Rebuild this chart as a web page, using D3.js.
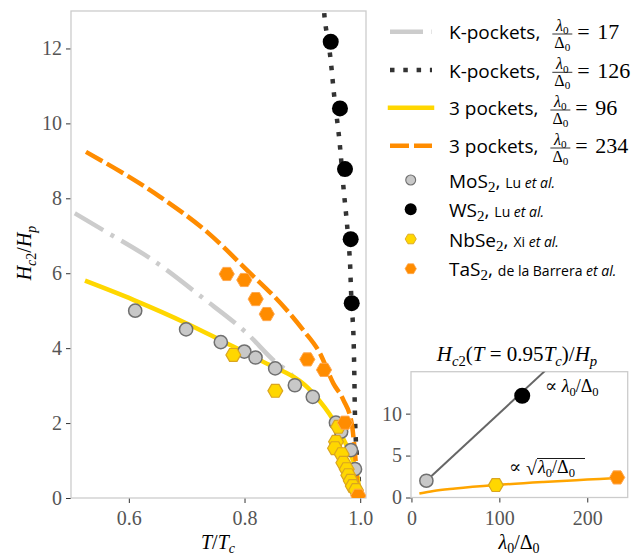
<!DOCTYPE html>
<html>
<head>
<meta charset="utf-8">
<script src="https://cdn.jsdelivr.net/npm/d3@7"></script>
<style>
  body { margin: 0; background: #fff; }
  svg { display: block; }
</style>
</head>
<body>
<svg id="chart" width="641" height="557"></svg>
<script>
// ---- Theory curves: Hc2/Hp versus T/Tc ----
const tempK17   = [0.5066, 0.5558, 0.6366, 0.7287, 0.8038, 0.8556, 0.8786, 0.886];
const hcK17     = [7.60, 7.15, 6.40, 5.33, 4.40, 3.60, 3.33, 3.20];

const tempK126  = [0.9368, 0.9379, 0.9478, 0.9552, 0.9634, 0.9720, 0.9767, 0.9824, 0.9841, 0.9881, 0.9898, 0.9910, 0.9927, 0.9962, 1.0];
const hcK126    = [13.3, 12.92, 11.84, 10.71, 9.64, 8.13, 7.39, 6.27, 5.53, 4.42, 3.31, 2.17, 1.46, 0.75, 0];

const temp3p96  = [0.5242, 0.6077, 0.7000, 0.7576, 0.8268, 0.9189, 0.9535, 0.970, 0.985, 0.995, 1.0];
const hc3p96    = [5.80, 5.29, 4.66, 4.22, 3.68, 2.79, 2.08, 1.60, 1.10, 0.60, 0];

const temp3p234 = [0.5259, 0.6539, 0.7346, 0.8038, 0.8729, 0.9016, 0.9305, 0.9535, 0.9708, 0.9853, 0.9910, 0.9967, 1.0];
const hc3p234   = [9.24, 8.04, 7.11, 6.09, 5.02, 4.48, 3.86, 3.06, 2.62, 1.99, 1.19, 0.13, 0];

// ---- Measured data ----
const tMoS2  = [0.611, 0.699, 0.759, 0.7996, 0.819, 0.853, 0.887, 0.918, 0.958, 0.967, 0.984, 0.991];
const hMoS2  = [5.00, 4.50, 4.16, 3.91, 3.75, 3.46, 3.01, 2.70, 2.01, 1.77, 1.28, 0.77];

const tWS2   = [0.949, 0.965, 0.9737, 0.9835, 0.9853];
const hWS2   = [12.18, 10.40, 8.78, 6.91, 5.20];

const tNbSe2 = [0.7806, 0.8532, 0.9621, 0.9582, 0.9564, 0.968, 0.9708, 0.9767, 0.9794, 0.9836, 0.9871, 0.9927];
const hNbSe2 = [3.82, 2.86, 1.90, 1.50, 1.33, 1.17, 0.94, 0.77, 0.61, 0.46, 0.32, 0.21];

const tTaS2  = [0.7692, 0.7996, 0.8193, 0.8384, 0.9085, 0.9374, 0.9737, 0.9967];
const hTaS2  = [5.98, 5.82, 5.31, 4.91, 3.70, 3.42, 2.01, 0.06];

// ---- Inset: Hc2(0.95 Tc)/Hp versus lambda0/Delta0 ----
const insetRatio = [17, 126, 96, 234];
const insetHc    = [2.00, 12.13, 1.48, 2.39];
const linFitX    = [17, 152];
const linFitY    = [2.00, 15.1];
const sqrtFitX   = [9, 25, 50, 96, 150, 200, 234];
const sqrtFitY   = [0.47, 0.78, 1.07, 1.48, 1.85, 2.14, 2.33];

// ---- Tick values ----
const mainXTicks  = [0.6, 0.8, 1.0];
const mainYTicks  = [0, 2, 4, 6, 8, 10, 12];
const insetXTicks = [0, 100, 200];
const insetYTicks = [0, 5, 10];

const SERIF = "'Liberation Serif', 'DejaVu Serif', serif";
const SANS  = "'Open Sans', 'DejaVu Sans', sans-serif";
const TICKCOL = "#555";

const svg = d3.select("#chart");

const styles = {
  k17:   { stroke: "#cccccc", dash: "33,8.5,4,8.5" },
  k126:  { stroke: "#333333", dash: "4.5,8.8" },
  p96:   { stroke: "#FFD700", dash: null },
  p234:  { stroke: "#FF8C00", dash: "19,5" }
};

function hexPath(r) {
  const pts = d3.range(6).map(k => [r * Math.cos(k * Math.PI / 3), r * Math.sin(k * Math.PI / 3)]);
  return "M" + pts.map(p => p.join(",")).join("L") + "Z";
}

function drawMarker(g, kind, cx, cy, scale) {
  const s = scale || 1;
  if (kind === "MoS2") {
    g.append("circle").attr("cx", cx).attr("cy", cy).attr("r", 6.6 * s)
      .attr("fill", "#c8c8c8").attr("stroke", "#707070").attr("stroke-width", 1.5 * s);
  } else if (kind === "WS2") {
    g.append("circle").attr("cx", cx).attr("cy", cy).attr("r", 8 * s).attr("fill", "#000");
  } else if (kind === "NbSe2") {
    g.append("path").attr("d", hexPath(7.4 * s)).attr("transform", `translate(${cx},${cy})`)
      .attr("fill", "#FFD700").attr("stroke", "#DAA520").attr("stroke-width", 1.2 * s);
  } else {
    g.append("path").attr("d", hexPath(7.6 * s)).attr("transform", `translate(${cx},${cy})`)
      .attr("fill", "#FF8C00").attr("stroke", "#FFA850").attr("stroke-width", 1 * s);
  }
}

// math-style text built from tspans: [text, style] with style r/i/sr/si
function addMath(parent, x, y, size, parts, anchor, subShift) {
  const t = parent.append("text").attr("x", x).attr("y", y)
    .attr("font-family", SERIF).attr("font-size", size).attr("fill", "#000");
  if (anchor) t.attr("text-anchor", anchor);
  const down = subShift === undefined ? 0.24 : subShift;
  let shift = 0;
  parts.forEach(([s, st]) => {
    const sub = st.startsWith("s");
    const target = sub ? size * down : 0;
    const ts = t.append("tspan").text(s).attr("font-size", sub ? size * 0.7 : size);
    if (target - shift !== 0) ts.attr("dy", target - shift);
    shift = target;
    if (st.endsWith("i")) ts.attr("font-style", "italic");
  });
  return t;
}

// ================= Main panel =================
const x = d3.scaleLinear().domain([0.5, 1.01]).range([71, 366]);
const y = d3.scaleLinear().domain([0, 13]).range([498, 11]);

svg.append("clipPath").attr("id", "mainClip")
  .append("rect").attr("x", 71).attr("y", 11).attr("width", 295).attr("height", 487);

const gx = svg.append("g").attr("transform", "translate(0,498)")
  .call(d3.axisBottom(x).tickValues(mainXTicks).tickSize(5).tickPadding(8).tickFormat(d3.format(".1f")));
const gy = svg.append("g").attr("transform", "translate(71,0)")
  .call(d3.axisLeft(y).tickValues(mainYTicks).tickSize(5).tickPadding(4).tickFormat(d3.format("d")));
[gx, gy].forEach(g => {
  g.select(".domain").remove();
  g.selectAll(".tick line").attr("stroke", "#333").attr("stroke-width", 1);
  g.selectAll(".tick text").attr("font-family", SERIF).attr("font-size", 20).attr("fill", TICKCOL);
});

svg.append("rect").attr("x", 71).attr("y", 11).attr("width", 295).attr("height", 487)
  .attr("fill", "none").attr("stroke", "#cccccc").attr("stroke-width", 1.3);

const plot = svg.append("g").attr("clip-path", "url(#mainClip)");
const line = d3.line().x(d => x(d[0])).y(d => y(d[1])).curve(d3.curveMonotoneX);

const curves = [
  [tempK17, hcK17, styles.k17],
  [tempK126, hcK126, styles.k126],
  [temp3p96, hc3p96, styles.p96],
  [temp3p234, hc3p234, styles.p234]
];
curves.forEach(([ts, hs, st], i) => {
  const pts = ts.map((t, j) => [t, hs[j]]);
  const gen = i === 1 ? d3.line().x(d => x(d[0])).y(d => y(d[1])).curve(d3.curveMonotoneY) : line;
  plot.append("path").attr("d", gen(pts)).attr("fill", "none")
    .attr("stroke", st.stroke).attr("stroke-width", 4.5)
    .attr("stroke-dasharray", st.dash).attr("stroke-linecap", "butt");
});

const sets = [
  ["MoS2", tMoS2, hMoS2],
  ["WS2", tWS2, hWS2],
  ["NbSe2", tNbSe2, hNbSe2],
  ["TaS2", tTaS2, hTaS2]
];
sets.forEach(([kind, ts, hs]) => {
  ts.forEach((t, j) => drawMarker(plot, kind, x(t), y(hs[j]), 1));
});

// axis labels
addMath(svg, 218, 549, 20, [["T", "i"], ["/", "r"], ["T", "i"], ["c", "si"]], "middle", 0.18);
const yl = svg.append("g").attr("transform", "translate(31,253) rotate(-90)");
addMath(yl, 0, 0, 20, [["H", "i"], ["c", "si"], ["2", "sr"], ["/", "r"], ["H", "i"], ["p", "si"]], "middle");

// ================= Legend =================
const legend = svg.append("g");
const lineRows = [
  [31.7, styles.k17, "K-pockets, ", "17"],
  [70, styles.k126, "K-pockets, ", "126"],
  [107.7, styles.p96, "3 pockets, ", "96"],
  [145.7, styles.p234, "3 pockets, ", "234"]
];
lineRows.forEach(([ly, st, label, val]) => {
  legend.append("line").attr("x1", 390).attr("x2", 432).attr("y1", ly).attr("y2", ly)
    .attr("stroke", st.stroke).attr("stroke-width", 4.5).attr("stroke-dasharray", st.dash)
    .attr("stroke-linecap", st.dash ? "butt" : "square");
  const base = ly + 7.5;
  const t = legend.append("text").attr("x", 449).attr("y", base)
    .attr("font-family", SANS).attr("font-size", 19).attr("fill", "#000").text(label);
  const w = t.node().getComputedTextLength();
  const fx = 449 + w + 12;
  const fw = 20;
  addMath(legend, fx + fw / 2, base - 8.2, 16, [["λ", "i"], ["0", "sr"]], "middle", 0.2);
  legend.append("line").attr("x1", fx).attr("x2", fx + fw).attr("y1", base - 5.2).attr("y2", base - 5.2)
    .attr("stroke", "#000").attr("stroke-width", 0.8);
  addMath(legend, fx + fw / 2, base + 8.5, 16, [["Δ", "r"], ["0", "sr"]], "middle", 0.2);
  addMath(legend, fx + fw + 5, base, 22, [["=", "r"]]);
  addMath(legend, fx + fw + 25, base, 22, [[val, "r"]]);
});

const markerRows = [
  [180, "MoS2", "MoS", ", ", "Lu "],
  [209.3, "WS2", "WS", ", ", "Lu "],
  [239, "NbSe2", "NbSe", ", ", "Xi "],
  [268.7, "TaS2", "TaS", ", ", "de la Barrera "]
];
markerRows.forEach(([my, kind, chem, comma, who]) => {
  drawMarker(legend, kind, 410.7, my, 0.75);
  const t = legend.append("text").attr("x", 449).attr("y", my + 7.5)
    .attr("font-family", SANS).attr("font-size", 19).attr("fill", "#000");
  t.append("tspan").text(chem);
  t.append("tspan").text("2").attr("font-family", SERIF).attr("font-size", 15).attr("dy", 4);
  t.append("tspan").text(comma).attr("dy", -4);
  t.append("tspan").text(who).attr("font-size", 14);
  t.append("tspan").text("et al.").attr("font-size", 14).attr("font-style", "italic");
});

// ================= Inset =================
const xi = d3.scaleLinear().domain([-0.5, 246]).range([411, 627.7]);
const yi = d3.scaleLinear().domain([0, 15]).range([497.5, 371.7]);

svg.append("clipPath").attr("id", "insetClip")
  .append("rect").attr("x", 411).attr("y", 371.7).attr("width", 216.7).attr("height", 125.8);

const gxi = svg.append("g").attr("transform", "translate(0,497.5)")
  .call(d3.axisBottom(xi).tickValues(insetXTicks).tickSize(5).tickPadding(8).tickFormat(d3.format("d")));
const gyi = svg.append("g").attr("transform", "translate(411,0)")
  .call(d3.axisLeft(yi).tickValues(insetYTicks).tickSize(5).tickPadding(4).tickFormat(d3.format("d")));
[gxi, gyi].forEach(g => {
  g.select(".domain").remove();
  g.selectAll(".tick line").attr("stroke", "#333").attr("stroke-width", 1);
  g.selectAll(".tick text").attr("font-family", SERIF).attr("font-size", 20).attr("fill", TICKCOL);
});

svg.append("rect").attr("x", 411).attr("y", 371.7).attr("width", 216.7).attr("height", 125.8)
  .attr("fill", "none").attr("stroke", "#cccccc").attr("stroke-width", 1.3);

const inset = svg.append("g").attr("clip-path", "url(#insetClip)");
const iline = d3.line().x(d => xi(d[0])).y(d => yi(d[1])).curve(d3.curveMonotoneX);
inset.append("path").attr("d", iline(linFitX.map((v, i) => [v, linFitY[i]])))
  .attr("fill", "none").attr("stroke", "#666").attr("stroke-width", 2);
inset.append("path").attr("d", iline(sqrtFitX.map((v, i) => [v, sqrtFitY[i]])))
  .attr("fill", "none").attr("stroke", "#FFA500").attr("stroke-width", 2.5);

const insetKinds = ["MoS2", "WS2", "NbSe2", "TaS2"];
insetRatio.forEach((r, i) => drawMarker(inset, insetKinds[i], xi(r), yi(insetHc[i]), 1));

// annotations
addMath(svg, 545, 392, 18, [["∝ ", "r"], ["λ", "i"], ["0", "sr"], ["/Δ", "r"], ["0", "sr"]], null, 0.2);
addMath(svg, 509, 473, 18, [["∝ ", "r"]]);
addMath(svg, 526, 475, 20, [["√", "r"]]);
addMath(svg, 538, 473, 18, [["λ", "i"], ["0", "sr"], ["/Δ", "r"], ["0", "sr"]], null, 0.2);
svg.append("line").attr("x1", 537).attr("x2", 585).attr("y1", 458.5).attr("y2", 458.5)
  .attr("stroke", "#000").attr("stroke-width", 0.9);

// inset title and x label
addMath(svg, 517, 361, 21, [["H", "i"], ["c", "si"], ["2", "sr"], ["(", "r"], ["T", "i"], [" = 0.95", "r"], ["T", "i"], ["c", "si"], [")/", "r"], ["H", "i"], ["p", "si"]], "middle");
addMath(svg, 519, 549, 20, [["λ", "i"], ["0", "sr"], ["/Δ", "r"], ["0", "sr"]], "middle", 0.18);
</script>
</body>
</html>
